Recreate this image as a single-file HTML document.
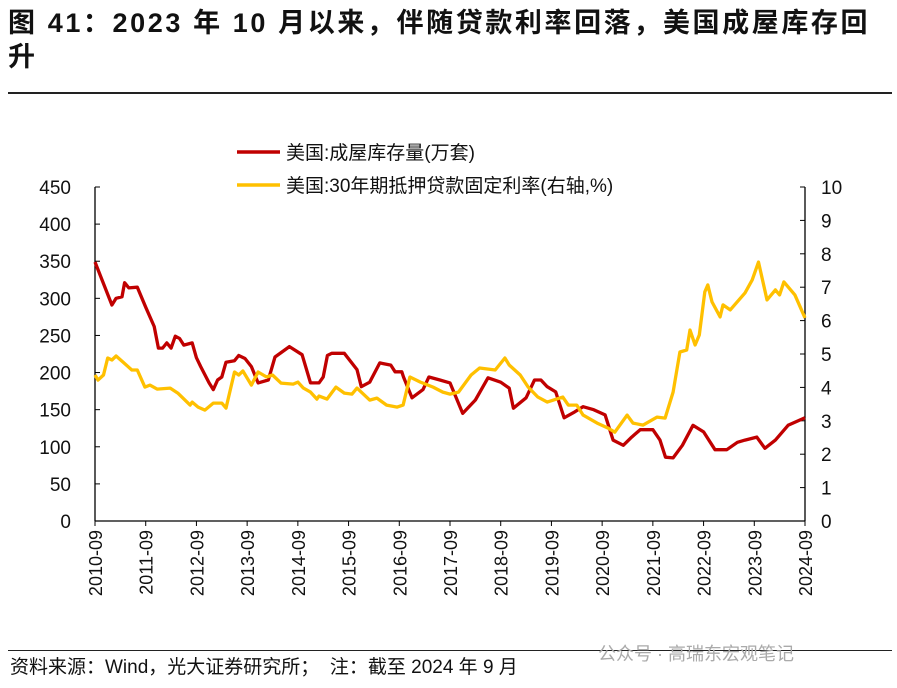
<!DOCTYPE html>
<html><head><meta charset="utf-8">
<style>
body{margin:0;background:#fff;width:897px;height:688px;overflow:hidden;font-family:"Liberation Sans","Noto Sans CJK SC",sans-serif;}
#title{position:absolute;left:8px;top:6px;width:886px;font-size:27px;letter-spacing:2.6px;font-weight:bold;line-height:34px;color:#111;font-family:"Liberation Sans","Noto Sans CJK SC",sans-serif;}
#rule{position:absolute;left:8px;top:92px;width:884px;height:2px;background:#222;}
#frule{position:absolute;left:8px;top:650px;width:884px;height:1px;background:#222;}
#source{position:absolute;left:10px;top:652px;font-size:19px;color:#111;}
#wm{position:absolute;left:598px;top:640px;font-size:18px;color:#aaa;}
svg{position:absolute;left:0;top:0;}
svg text{font-family:"Liberation Sans","Noto Sans CJK SC",sans-serif;}
</style></head><body>
<div id="title">图 41：2023 年 10 月以来，伴随贷款利率回落，美国成屋库存回升</div>
<div id="rule"></div>
<svg id="chart" width="897" height="688"></svg>
<div id="frule"></div>
<div id="wm">公众号 · 高瑞东宏观笔记</div>
<div id="source">资料来源：Wind，光大证券研究所；&nbsp; 注：截至 2024 年 9 月</div>
<script>
// months since 2010-09
const invMonths=[0,4,5,6.4,7,8,10,12,14,15,16,17,18,19,20,21,23,24,25,27,28,29,30,31,33,34,35.5,37,38.6,41,42.6,46,49,51,53,54,55,56,59,62,63,65,67.4,70,71,72.6,73,75,77.6,79,81.6,84,87,90,93,96,98,99,102,104,105.5,107,109,111,113.5,115.5,118,120.7,122.6,125,127,129,132,133.7,135,136.8,139,141.5,144,146.7,149.5,152,153.8,156.6,158.5,161,164,168];
const invValues=[349,291,300,302,321,314,315,288,262,233,233,240,233,249,246,237,240,220,208,186,177,190,194,214,216,223,219,208,186,190,221,235,224,186,186,194,223,226,226,204,181,187,213,210,201,201,194,166,177,194,190,186,145,163,193,187,179,152,166,190,190,181,174,139,147,154,150,143,109,102,113,123,123,109,86,85,102,129,120,96,96,106,109,113,98,109,129,139];
const rateMonths=[0,0.7,2,3,4,5,6.6,8.7,10,11.8,13,14.7,17.8,19.6,22.5,23,24.4,26,28,30,31,33,34,35,37,38.6,40.6,42,44,46.9,48,49.3,51,52.5,53,54.9,57,59,60.8,62,65,66.7,69,71.5,72.9,74.5,77,80,82.3,84,86,89,91,94.7,97,98,100.6,102.5,104.8,107,110.7,112,114,115.5,118.8,121.4,123,125.9,127.3,129.7,133,134.9,136.8,138.4,140,140.8,142,143,144.3,145,146,147.9,148.6,150.3,153.8,155.5,157,159,161,162,163,165.6,168];
const rateValues=[4.37,4.22,4.37,4.88,4.82,4.94,4.76,4.52,4.52,4.01,4.07,3.95,3.98,3.83,3.47,3.56,3.41,3.32,3.53,3.53,3.38,4.46,4.37,4.49,4.07,4.46,4.31,4.37,4.13,4.10,4.16,3.98,3.86,3.65,3.74,3.65,4.01,3.83,3.80,3.98,3.62,3.68,3.47,3.41,3.47,4.31,4.16,4.01,3.86,3.80,3.86,4.37,4.58,4.52,4.88,4.67,4.37,4.01,3.71,3.56,3.71,3.47,3.47,3.17,2.93,2.78,2.66,3.17,2.93,2.87,3.11,3.08,3.86,5.06,5.12,5.72,5.27,5.57,6.86,7.07,6.56,6.11,6.47,6.32,6.83,7.22,7.75,6.62,6.92,6.77,7.16,6.77,6.08];
const leftTicks=[0,50,100,150,200,250,300,350,400,450];
const rightTicks=[0,1,2,3,4,5,6,7,8,9,10];
const xLabels=["2010-09","2011-09","2012-09","2013-09","2014-09","2015-09","2016-09","2017-09","2018-09","2019-09","2020-09","2021-09","2022-09","2023-09","2024-09"];

const X0=95,X1=805,Y0=521,YT=187;
const xs=m=>X0+m*(X1-X0)/168;
const yl=v=>Y0-v*(Y0-YT)/450;
const yr=v=>Y0-v*(Y0-YT)/10;
const svg=document.getElementById('chart');
const NS='http://www.w3.org/2000/svg';
function mk(tag,attrs,parent){const e=document.createElementNS(NS,tag);for(const k in attrs)e.setAttribute(k,attrs[k]);(parent||svg).appendChild(e);return e;}

const ax=mk('g',{});


const la=mk('line',{x1:X0,y1:YT,x2:X0,y2:Y0,stroke:'#000','stroke-width':1.3},ax);


const ra=mk('line',{x1:X1,y1:YT,x2:X1,y2:Y0,stroke:'#000','stroke-width':1.3},ax);


const xa=mk('line',{x1:X0,y1:Y0,x2:X1,y2:Y0,stroke:'#000','stroke-width':1.3},ax);



leftTicks.forEach(v=>{
  mk('line',{x1:X0,y1:yl(v),x2:X0+5,y2:yl(v),stroke:'#000'},ax);
  const t=mk('text',{x:71,y:yl(v)+7,'text-anchor':'end','font-size':19,fill:'#111'},ax);
  t.textContent=v;
  
  
});
rightTicks.forEach(v=>{
  mk('line',{x1:X1-5,y1:yr(v),x2:X1,y2:yr(v),stroke:'#000'},ax);
  const t=mk('text',{x:821,y:yr(v)+7,'text-anchor':'start','font-size':19,fill:'#111'},ax);
  t.textContent=v;
  
  
});
xLabels.forEach((s,i)=>{
  const x=xs(i*12);
  mk('line',{x1:x,y1:Y0,x2:x,y2:Y0+5,stroke:'#000'},ax);
  const t=mk('text',{x:0,y:0,'text-anchor':'end','font-size':18,fill:'#111',transform:`translate(${x+7},${Y0+9}) rotate(-90)`},ax);
  t.textContent=s;
  
  
});

const p1=mk('polyline',{points:invMonths.map((m,i)=>xs(m).toFixed(1)+','+yl(invValues[i]).toFixed(1)).join(' '),fill:'none',stroke:'#c00000','stroke-width':3.3,'stroke-linejoin':'round'});


const p2=mk('polyline',{points:rateMonths.map((m,i)=>xs(m).toFixed(1)+','+yr(rateValues[i]).toFixed(1)).join(' '),fill:'none',stroke:'#ffc000','stroke-width':3.3,'stroke-linejoin':'round'});



const lg=mk('g',{});


const l1=mk('g',{},lg);


mk('line',{x1:237,y1:152,x2:280,y2:152,stroke:'#c00000','stroke-width':3.5},l1);
const t1=mk('text',{x:286,y:159,'font-size':19,fill:'#111'},l1);t1.textContent='美国:成屋库存量(万套)';
const l2=mk('g',{},lg);


mk('line',{x1:237,y1:185,x2:280,y2:185,stroke:'#ffc000','stroke-width':3.5},l2);
const t2=mk('text',{x:286,y:192,'font-size':19,fill:'#111'},l2);t2.textContent='美国:30年期抵押贷款固定利率(右轴,%)';
</script>
</body></html>
